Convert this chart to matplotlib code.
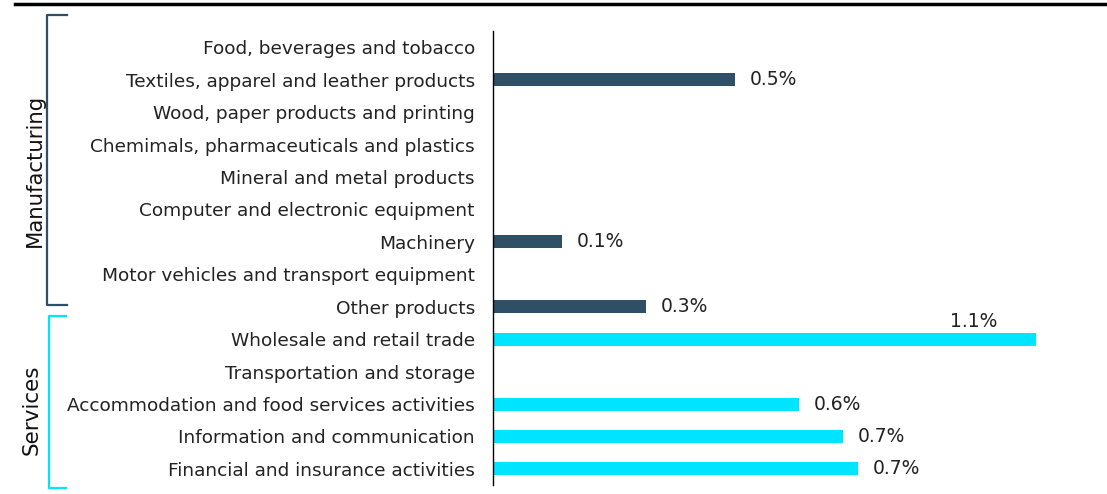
import matplotlib.pyplot as plt
from matplotlib.lines import Line2D

categories = [
    "Food, beverages and tobacco",
    "Textiles, apparel and leather products",
    "Wood, paper products and printing",
    "Chemimals, pharmaceuticals and plastics",
    "Mineral and metal products",
    "Computer and electronic equipment",
    "Machinery",
    "Motor vehicles and transport equipment",
    "Other products",
    "Wholesale and retail trade",
    "Transportation and storage",
    "Accommodation and food services activities",
    "Information and communication",
    "Financial and insurance activities",
]
sectors = ["Manufacturing"] * 9 + ["Services"] * 5
values = [None, 0.49, None, None, None, None, 0.14, None, 0.31,
          1.10, None, 0.62, 0.71, 0.74]

dark = "#2E4F66"
cyan = "#00E5FF"
colors = {"Manufacturing": dark, "Services": cyan}

plt.rcParams['font.family'] = ['DejaVu Sans']

fig = plt.figure(figsize=(11.07, 4.94), dpi=100)
ax = fig.add_axes([0.4453, 0.018, 0.535, 0.919])

for i, (v, s) in enumerate(zip(values, sectors)):
    if v is None:
        continue
    ax.barh(i, v, height=0.4, color=colors[s])
    if v > 1.0:
        ax.text(v - 0.077, i - 0.25, f"{v:.1f}%", ha="right", va="bottom",
                fontsize=13.5, color="#222222")
    else:
        ax.text(v + 0.03, i, f"{v:.1f}%", ha="left", va="center",
                fontsize=13.5, color="#222222")

ax.set_yticks(range(len(categories)))
ax.set_yticklabels(categories, fontsize=13.3, color="#222222")
ax.set_ylim(len(categories) - 0.5, -0.5)
ax.set_xlim(0, 1.2)
ax.set_xticks([])
ax.tick_params(axis="y", length=0, pad=13)
for sp in ["top", "right", "bottom"]:
    ax.spines[sp].set_visible(False)
ax.spines["left"].set_linewidth(1.0)

# group brackets on the left
W, H = 1107, 494

def bracket(x0, x1, ytop, ybot, color):
    xs = [x1 / W, x0 / W, x0 / W, x1 / W]
    ys = [1 - ytop / H, 1 - ytop / H, 1 - ybot / H, 1 - ybot / H]
    fig.add_artist(Line2D(xs, ys, color=color, lw=1.6))

bracket(47, 67, 15, 305, dark)
bracket(49, 66, 316, 488, cyan)
fig.text(35 / W, 1 - 170 / H, "Manufacturing", rotation=90, ha="center",
         va="center", fontsize=15.3, color="#111111")
fig.text(32 / W, 1 - 410 / H, "Services", rotation=90, ha="center",
         va="center", fontsize=15.5, color="#111111")

# rule under the heading
fig.add_artist(Line2D([15 / W, 1.0], [1 - 4 / H, 1 - 4 / H], color="black",
                      lw=2.5))

fig.savefig("out.png", dpi=100)
